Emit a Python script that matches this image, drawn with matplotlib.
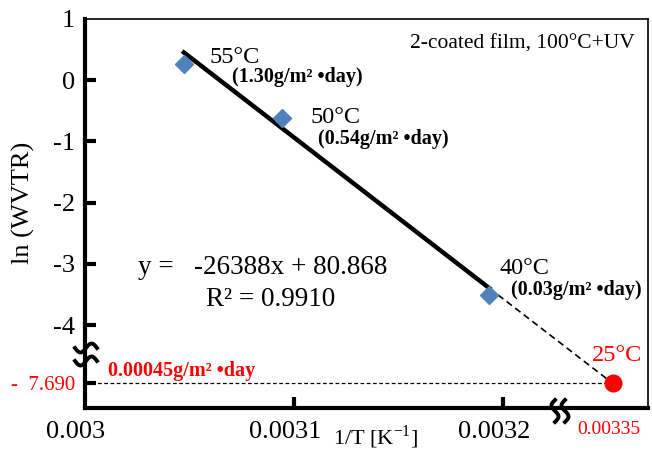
import numpy as np
import matplotlib.pyplot as plt
from matplotlib.transforms import ScaledTranslation

plt.rcParams['font.family'] = ['Liberation Serif', 'DejaVu Serif']
plt.rcParams['mathtext.fontset'] = 'custom'
plt.rcParams['mathtext.rm'] = 'Liberation Serif'

# measured points: 1/T [1/K] and ln(WVTR)
temps = ['55°C', '50°C', '40°C']
inv_T = [0.0030474, 0.0030945, 0.0031934]
ln_wvtr = [0.262, -0.616, -3.507]
wvtr_text = ['(1.30g/m² •day)', '(0.54g/m² •day)', '(0.03g/m² •day)']

# Arrhenius fit and the 25 °C extrapolation
slope, intercept = -26388, 80.868
r2 = 0.9910
pred_label = '25°C'
pred_x = 0.00335
pred_y = -7.690
pred_text = '0.00045g/m² •day'

xticks = [0.003, 0.0031, 0.0032, 0.00335]
xticklabels = ['0.003', '0.0031', '0.0032', '0.00335']
yticks = [1, 0, -1, -2, -3, -4, -7.690]
yticklabels = ['1', '0', '-1', '-2', '-3', '-4', '-  7.690']


# broken axes: compress everything past the break
XB, XK = 0.00322, 0.2485
YB, YK = -4.5, 0.142


def fx(x):
    x = np.asarray(x, dtype=float)
    return np.where(x <= XB, x, XB + (x - XB) * XK)


def fx_inv(t):
    t = np.asarray(t, dtype=float)
    return np.where(t <= XB, t, XB + (t - XB) / XK)


def fy(y):
    y = np.asarray(y, dtype=float)
    return np.where(y >= YB, y, YB + (y - YB) * YK)


def fy_inv(t):
    t = np.asarray(t, dtype=float)
    return np.where(t >= YB, t, YB + (t - YB) / YK)


fig = plt.figure(figsize=(6.52, 4.5), dpi=100)
ax = fig.add_axes([0.1299, 0.0927, 0.8644, 0.8651])
ax.set_xscale('function', functions=(fx, fx_inv))
ax.set_yscale('function', functions=(fy, fy_inv))
ax.set_xlim(0.003, 0.0034184)
ax.set_ylim(-10.56, 1)

# fitted line over the measured range, dashed extrapolation to 25 °C
fit_x = np.array([inv_T[0], inv_T[-1]])
ax.plot(fit_x, slope * fit_x + intercept, color='black', lw=3.2, zorder=3)
ax.plot([inv_T[-1], pred_x], [slope * inv_T[-1] + intercept, pred_y],
        color='black', lw=1.2, ls=(0, (4, 2.5)), zorder=3)
ax.plot([0.003, pred_x], [pred_y, pred_y], color='black', lw=0.9,
        ls=(0, (3, 2)), zorder=2)

ax.plot(inv_T, ln_wvtr, ls='none', marker='D', ms=9, color='#4F81BD',
        mec='#4F81BD', zorder=4)
ax.plot([pred_x], [pred_y], ls='none', marker='o', ms=12, color='red',
        zorder=5, clip_on=False)

# point labels (offsets in pixels)
temp_off = [(26, 7), (28, 0), (10, 26)]
sub_off = [(48, -13), (36, -21), (22, 5)]
for x, y, t, s, to, so in zip(inv_T, ln_wvtr, temps, wvtr_text, temp_off, sub_off):
    ax.annotate(t, (x, y), xytext=to, textcoords='offset pixels',
                fontsize=17.5, va='center', ha='left')
    ax.annotate(s, (x, y), xytext=so, textcoords='offset pixels',
                fontsize=14.5, fontweight='bold', va='center', ha='left')

ax.annotate(pred_label, (pred_x, pred_y), xytext=(-21, 28),
            textcoords='offset pixels', fontsize=17.5, color='red',
            va='center', ha='left')
ax.annotate(pred_text, (0.003, pred_y), xytext=(23, 12),
            textcoords='offset pixels', fontsize=14.5, fontweight='bold',
            color='red', va='center', ha='left')

fig.text(138 / 652, 1 - 267 / 450, 'y =   %dx + %.3f' % (slope, intercept),
         fontsize=19.5, va='center', ha='left')
fig.text(206 / 652, 1 - 300 / 450, 'R² = %.4f' % r2,
         fontsize=19.5, va='center', ha='left')
fig.text(410 / 652, 1 - 44 / 450, '2-coated film, 100°C+UV',
         fontsize=15.5, va='center', ha='left')

# axes styling
for side in ['left', 'bottom']:
    ax.spines[side].set_linewidth(3)
for side in ['top', 'right']:
    ax.spines[side].set_linewidth(1.2)

ax.set_xticks(xticks)
ax.set_xticklabels(xticklabels)
ax.set_yticks(yticks)
ax.set_yticklabels(yticklabels)
ax.tick_params(direction='in', length=8, width=3, labelsize=19)
ax.tick_params(axis='x', pad=9)
ax.tick_params(axis='y', pad=7)
ax.minorticks_off()

xt = ax.xaxis.get_major_ticks()
xt[0].tick1line.set_visible(False)
xt[3].tick1line.set_visible(False)
xt[3].label1.set_color('red')
xt[3].label1.set_fontsize(14)
for i, shift in enumerate([-9, -9, -9, -4]):
    lab = xt[i].label1
    lab.set_transform(lab.get_transform()
                      + ScaledTranslation(shift / 100, 0, fig.dpi_scale_trans))
yt = ax.yaxis.get_major_ticks()
yt[0].tick1line.set_visible(False)
yt[6].label1.set_color('red')
yt[6].label1.set_fontsize(15)

fig.text(23 / 652, 1 - 203 / 450, 'ln (WVTR)', fontsize=19, rotation=90,
         va='center', ha='center')
fig.text(376 / 652, 1 - 437 / 450, '1/T [K$^{\\mathrm{-1}}$]', fontsize=16,
         va='center', ha='center')


# break marks drawn in figure pixels
def px(xs, ys):
    return np.asarray(xs) / 652, 1 - np.asarray(ys) / 450


s = np.linspace(-1, 1, 40)
for cy in (348, 361):
    X, Y = px(86 + 11 * s, cy - 4.5 * np.sin(np.pi * s))
    fig.add_artist(plt.Line2D(X, Y, color='black', lw=2.8,
                              transform=fig.transFigure))
for cx in (555, 565):
    X, Y = px(cx + 3.5 * np.sin(np.pi * s), 411 + 11 * s)
    fig.add_artist(plt.Line2D(X, Y, color='black', lw=2.8,
                              transform=fig.transFigure))

fig.savefig('out.png', dpi=100)
